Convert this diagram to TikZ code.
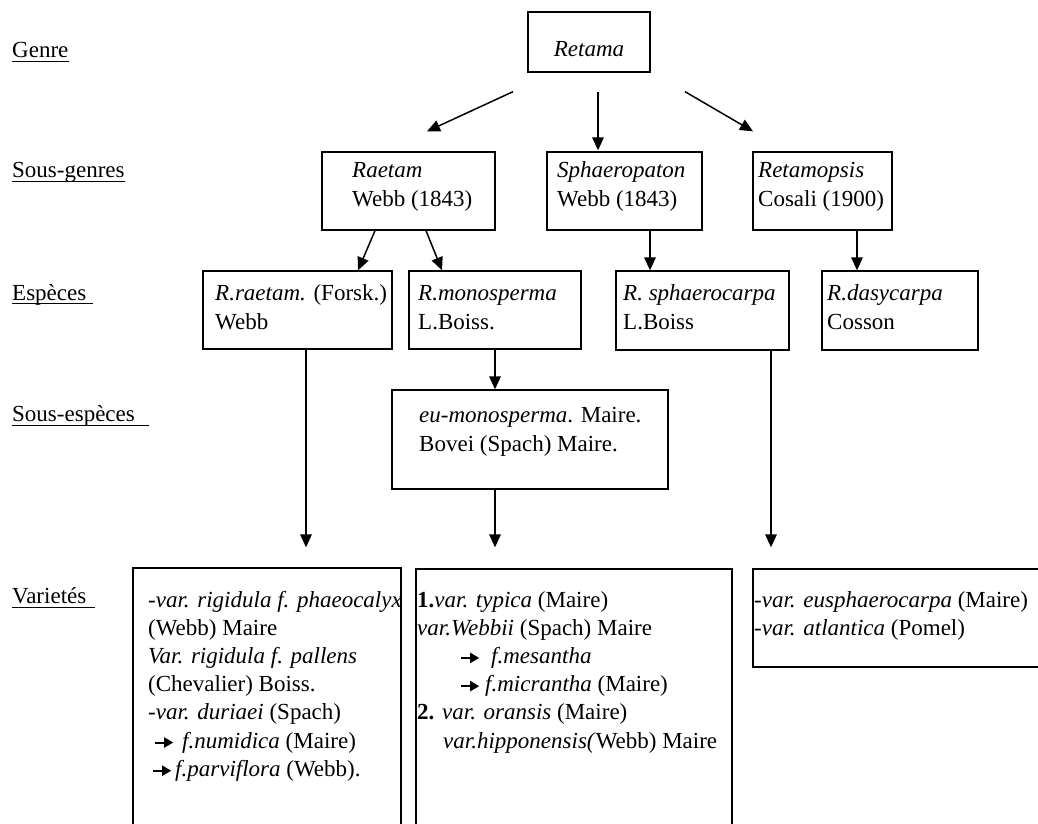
\documentclass[tikz,border=0pt]{standalone}
\usepackage{fontspec}
\setmainfont{Liberation Serif}
\usetikzlibrary{arrows.meta}
\newcommand{\blarr}{\tikz[baseline=-5.5pt]\draw[line width=2pt,-{Triangle[length=9pt,width=10pt]}] (0pt,0pt)--(18pt,0pt);}
\begin{document}
\begin{tikzpicture}[x=1pt,y=-1pt,
  box/.style={draw,line width=1.3pt,inner sep=0pt},
  arr/.style={line width=1.5pt,-{Triangle[length=13pt,width=11.5pt]}},
  txt/.style={anchor=base west,inner sep=0pt,align=left,font=\fontsize{23}{28.2}\selectfont},
  two/.style={font=\fontsize{23}{29.5}\selectfont},
  uline/.style={line width=1pt}]
\useasboundingbox (0,0) rectangle (1038,823);
% left labels
\node[txt] (lgenre) at (12,57) {Genre};
\node[txt] (lsousg) at (12,177) {Sous-genres};
\node[txt] (lesp) at (12,300) {Espèces};
\node[txt] (lsouse) at (12,421) {Sous-espèces};
\node[txt] (lvar) at (12,603) {Varietés};
\draw[uline] ([yshift=-4pt]lgenre.base west) -- ++(57,0);
\draw[uline] ([yshift=-4pt]lsousg.base west) -- ++(113,0);
\draw[uline] ([yshift=-3pt]lesp.base west) -- ++(81,0);
\draw[uline] ([yshift=-4pt]lsouse.base west) -- ++(137,0);
\draw[uline] ([yshift=-4pt]lvar.base west) -- ++(83,0);
% boxes
\node[box,minimum width=122pt,minimum height=60pt] (retama) at (589,42) {};
\node[box,minimum width=173pt,minimum height=78pt] (raetam) at (408.5,191) {};
\node[box,minimum width=155pt,minimum height=78pt] (sphaero) at (624.5,191) {};
\node[box,minimum width=139pt,minimum height=78pt] (retamopsis) at (822.5,191) {};
\node[box,minimum width=189pt,minimum height=78pt] (rraetam) at (297.5,310) {};
\node[box,minimum width=172pt,minimum height=78pt] (rmono) at (495,310) {};
\node[box,minimum width=173pt,minimum height=79pt] (rsphaero) at (702.5,310.5) {};
\node[box,minimum width=156pt,minimum height=79pt] (rdasy) at (900,310.5) {};
\node[box,minimum width=276pt,minimum height=99pt] (sousesp) at (530,439.5) {};
\node[box,minimum width=268pt,minimum height=272pt] (var1) at (267,704) {};
\node[box,minimum width=316pt,minimum height=271pt] (var2) at (574,704.5) {};
\node[box,minimum width=292pt,minimum height=98pt] (var3) at (899,618) {};
% texts (base anchor = baseline of last line)
\node[txt,anchor=base] (tretama) at (589,56) {\textit{Retama}};
\node[txt,two] (traetam) at (352,206.5) {\textit{Raetam}\\Webb (1843)};
\node[txt,two] (tsphaero) at (557,206.5) {\textit{Sphaeropaton}\\Webb (1843)};
\node[txt,two] (tretamopsis) at (758,206.5) {\textit{Retamopsis}\\Cosali (1900)};
\node[txt,two] (trraetam) at (215,329.5) {\textit{R.raetam.} (Forsk.)\\Webb};
\node[txt,two] (trmono) at (418,329.5) {\textit{R.monosperma}\\L.Boiss.};
\node[txt,two] (trsphaero) at (623,329.5) {\textit{R. sphaerocarpa}\\L.Boiss};
\node[txt,two] (trdasy) at (827,329.5) {\textit{R.dasycarpa}\\Cosson};
\node[txt,two] (tsousesp) at (419,451.5) {\textit{eu-monosperma}. Maire.\\Bovei (Spach) Maire.};
\node[txt] (tvar1) at (148,776.2) {\textit{-var. rigidula f. phaeocalyx}\\
(Webb) Maire\\
\textit{Var. rigidula f. pallens}\\
(Chevalier) Boiss.\\
\textit{-var. duriaei} (Spach)\\
\hspace*{6pt}\blarr\hspace{8pt}\textit{f.numidica} (Maire)\\
\hspace*{4pt}\blarr\hspace{3pt}\textit{f.parviflora} (Webb).};
\node[txt] (tvar2) at (417,748) {\textbf{1.}\textit{var. typica} (Maire)\\
\textit{var.Webbii} (Spach) Maire\\
\hspace*{43pt}\blarr\hspace{11pt}\textit{f.mesantha}\\
\hspace*{43pt}\blarr\hspace{5pt}\textit{f.micrantha} (Maire)\\
\textbf{2.} \textit{var. oransis} (Maire)\\
\hspace*{26pt}\textit{var.hipponensis(}Webb) Maire};
\node[txt] (tvar3) at (754,635.2) {\textit{-var. eusphaerocarpa} (Maire)\\
\textit{-var. atlantica} (Pomel)};
% connectors
\draw[arr] ([xshift=-76pt,yshift=-19pt]retama.south) -- ([xshift=18.5pt,yshift=20pt]raetam.north);
\draw[arr] ([xshift=9pt,yshift=-19pt]retama.south) -- ([xshift=-26.5pt,yshift=1pt]sphaero.north);
\draw[arr] ([xshift=96pt,yshift=-19pt]retama.south) -- ([xshift=-69.5pt,yshift=20pt]retamopsis.north);
\draw[arr] ([xshift=-33.5pt]raetam.south) -- ([xshift=60.5pt]rraetam.north);
\draw[arr] ([xshift=17.5pt]raetam.south) -- ([xshift=-53pt]rmono.north);
\draw[arr] ([xshift=25.5pt]sphaero.south) -- ([xshift=-52.5pt]rsphaero.north);
\draw[arr] ([xshift=34.5pt]retamopsis.south) -- ([xshift=-43pt]rdasy.north);
\draw[arr] ([xshift=8.5pt]rraetam.south) -- ([xshift=39pt,yshift=20pt]var1.north);
\draw[arr] (rmono.south) -- ([xshift=-35pt]sousesp.north);
\draw[arr] ([xshift=-35pt]sousesp.south) -- ([xshift=-79pt,yshift=21pt]var2.north);
\draw[arr] ([xshift=68.5pt]rsphaero.south) -- ([xshift=-128pt,yshift=21pt]var3.north);
\end{tikzpicture}
\end{document}
